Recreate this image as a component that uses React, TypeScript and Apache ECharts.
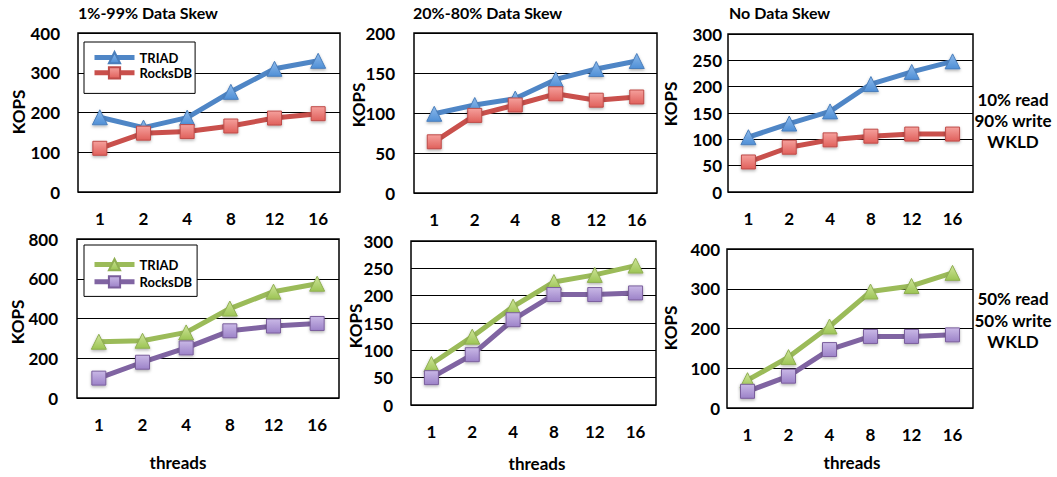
import React, { useEffect, useRef } from "react";
import * as echarts from "echarts";

const threads = ["1", "2", "4", "8", "12", "16"];

// Top row: 10% read / 90% write
const triadSkew1W = [188, 162, 187, 252, 310, 330];
const rocksSkew1W = [110, 148, 152, 166, 186, 197];
const triadSkew20W = [99, 110, 118, 142, 155, 165];
const rocksSkew20W = [64, 97, 110, 124, 116, 120];
const triadNoSkewW = [104, 130, 153, 205, 228, 248];
const rocksNoSkewW = [57, 85, 99, 106, 110, 110];

// Bottom row: 50% read / 50% write
const triadSkew1M = [283, 288, 330, 450, 535, 575];
const rocksSkew1M = [100, 180, 252, 338, 362, 375];
const triadSkew20M = [75, 125, 180, 225, 238, 255];
const rocksSkew20M = [50, 92, 156, 202, 202, 205];
const triadNoSkewM = [70, 128, 205, 293, 307, 340];
const rocksNoSkewM = [42, 80, 147, 180, 180, 184];

const yMaxTop = [400, 200, 300];
const yIntTop = [100, 50, 50];
const yMaxBot = [800, 300, 400];
const yIntBot = [200, 50, 100];

const titles = ["1%-99% Data Skew", "20%-80% Data Skew", "No Data Skew"];
const yName = "KOPS";
const xName = "threads";
const topNote = ["10% read", "90% write", "WKLD"];
const botNote = ["50% read", "50% write", "WKLD"];
const legendNames = ["TRIAD", "RocksDB"];

const FONT = 'Lato, "DejaVu Sans", sans-serif';

const grad = (a: string, b: string) =>
  new echarts.graphic.LinearGradient(0, 0, 0, 1, [
    { offset: 0, color: a },
    { offset: 1, color: b },
  ]);

const STYLES = {
  blue: { line: "#4F86C6", fillA: "#8DBAEB", fillB: "#4F8FD6", border: "#4A7EBB" },
  red: { line: "#C9504C", fillA: "#F5A09C", fillB: "#E0605B", border: "#BE4B48" },
  green: { line: "#9BBB59", fillA: "#CFE59A", fillB: "#9CC454", border: "#8FAE52" },
  purple: { line: "#8064A2", fillA: "#C9B8E6", fillB: "#9C82C8", border: "#7A5E9C" },
};

function mkSeries(
  name: string,
  data: number[],
  idx: number,
  st: { line: string; fillA: string; fillB: string; border: string },
  symbol: string,
  size: number
) {
  return {
    type: "line",
    name,
    data,
    xAxisIndex: idx,
    yAxisIndex: idx,
    symbol,
    symbolSize: size,
    showAllSymbol: true,
    lineStyle: { color: st.line, width: 5 },
    itemStyle: {
      color: grad(st.fillA, st.fillB),
      borderColor: st.border,
      borderWidth: 1,
      shadowColor: "rgba(0,0,0,0.3)",
      shadowBlur: 3,
      shadowOffsetY: 1.5,
    },
    emphasis: { disabled: true },
    z: name === "TRIAD" ? 3 : 4,
  };
}

function mkGrid(left: number, top: number, width: number, height: number) {
  return {
    left,
    top,
    width,
    height,
    show: true,
    borderColor: "#000",
    borderWidth: 1.5,
    backgroundColor: "transparent",
  };
}

function mkX(idx: number) {
  return {
    type: "category",
    gridIndex: idx,
    data: threads,
    boundaryGap: true,
    axisLine: { show: false },
    axisTick: { show: false },
    axisLabel: {
      margin: 18,
      fontFamily: FONT,
      fontWeight: "bold",
      fontSize: 17,
      color: "#000",
    },
    splitLine: { show: false },
  };
}

function mkY(idx: number, max: number, interval: number, margin: number) {
  return {
    type: "value",
    gridIndex: idx,
    min: 0,
    max,
    interval,
    axisLine: { show: false },
    axisTick: { show: false },
    axisLabel: {
      margin,
      fontFamily: FONT,
      fontWeight: "bold",
      fontSize: 17,
      color: "#000",
    },
    splitLine: { show: true, lineStyle: { color: "#000", width: 1 } },
  };
}

function txt(text: string, x: number, y: number, size: number, align = "center", rotate = 0) {
  return {
    type: "text",
    x,
    y,
    rotation: rotate,
    silent: true,
    style: {
      text,
      fill: "#000",
      font: `bold ${size}px ${FONT}`,
      align,
      verticalAlign: "middle",
    },
  };
}

function legendCfg(left: number, top: number, padding: number[], gap: number) {
  return {
    left,
    top,
    orient: "vertical",
    itemWidth: 40,
    itemHeight: 14,
    itemGap: gap,
    padding,
    borderColor: "#000",
    borderWidth: 1,
    backgroundColor: "#fff",
    selectedMode: false,
    lineStyle: { width: "inherit" },
    textStyle: { fontFamily: FONT, fontWeight: "bold", fontSize: 13, color: "#000" },
    data: legendNames.map((n) => ({ name: n, lineStyle: { width: 5 } })),
  };
}

function topOption() {
  return {
    animation: false,
    backgroundColor: "transparent",
    grid: [mkGrid(78, 33, 262, 159), mkGrid(414, 33, 243, 160), mkGrid(728, 34, 245, 158)],
    xAxis: [mkX(0), mkX(1), mkX(2)],
    yAxis: [
      mkY(0, yMaxTop[0], yIntTop[0], 18),
      mkY(1, yMaxTop[1], yIntTop[1], 19),
      mkY(2, yMaxTop[2], yIntTop[2], 6),
    ],
    legend: legendCfg(84, 42, [9, 3, 14, 8], 2),
    series: [
      mkSeries("TRIAD", triadSkew1W, 0, STYLES.blue, "triangle", 15),
      mkSeries("RocksDB", rocksSkew1W, 0, STYLES.red, "rect", 14),
      mkSeries("TRIAD", triadSkew20W, 1, STYLES.blue, "triangle", 15),
      mkSeries("RocksDB", rocksSkew20W, 1, STYLES.red, "rect", 14),
      mkSeries("TRIAD", triadNoSkewW, 2, STYLES.blue, "triangle", 15),
      mkSeries("RocksDB", rocksNoSkewW, 2, STYLES.red, "rect", 14),
    ],
    graphic: [
      txt(titles[0], 78, 12, 16, "left"),
      txt(titles[1], 413, 12, 16, "left"),
      txt(titles[2], 729, 12, 16, "left"),
      txt(yName, 18, 112, 17, "center", Math.PI / 2),
      txt(yName, 358, 105, 17, "center", Math.PI / 2),
      txt(yName, 670, 104, 17, "center", Math.PI / 2),
      txt(topNote[0], 1013, 99, 17),
      txt(topNote[1], 1013, 120, 17),
      txt(topNote[2], 1013, 141, 17),
    ],
  };
}

function botOption() {
  return {
    animation: false,
    backgroundColor: "transparent",
    grid: [mkGrid(77, 239, 262, 159), mkGrid(411, 241, 245, 164), mkGrid(727, 249, 246, 159)],
    xAxis: [mkX(0), mkX(1), mkX(2)],
    yAxis: [
      mkY(0, yMaxBot[0], yIntBot[0], 19),
      mkY(1, yMaxBot[1], yIntBot[1], 18),
      mkY(2, yMaxBot[2], yIntBot[2], 7),
    ],
    legend: legendCfg(84, 245, [13, 5, 8, 8], 4),
    series: [
      mkSeries("TRIAD", triadSkew1M, 0, STYLES.green, "triangle", 15),
      mkSeries("RocksDB", rocksSkew1M, 0, STYLES.purple, "rect", 14),
      mkSeries("TRIAD", triadSkew20M, 1, STYLES.green, "triangle", 15),
      mkSeries("RocksDB", rocksSkew20M, 1, STYLES.purple, "rect", 14),
      mkSeries("TRIAD", triadNoSkewM, 2, STYLES.green, "triangle", 15),
      mkSeries("RocksDB", rocksNoSkewM, 2, STYLES.purple, "rect", 14),
    ],
    graphic: [
      txt(yName, 17, 322, 17, "center", Math.PI / 2),
      txt(yName, 355, 326, 17, "center", Math.PI / 2),
      txt(yName, 670, 328, 17, "center", Math.PI / 2),
      txt(xName, 178, 462, 17),
      txt(xName, 537, 463, 17),
      txt(xName, 852, 462, 17),
      txt(botNote[0], 1013, 298, 17),
      txt(botNote[1], 1013, 320, 17),
      txt(botNote[2], 1013, 341, 17),
    ],
  };
}

export default function App() {
  const topRef = useRef<HTMLDivElement>(null);
  const botRef = useRef<HTMLDivElement>(null);
  useEffect(() => {
    const a = echarts.init(topRef.current!, undefined, { renderer: "svg" });
    const b = echarts.init(botRef.current!, undefined, { renderer: "svg" });
    a.setOption(topOption() as any);
    b.setOption(botOption() as any);
    return () => {
      a.dispose();
      b.dispose();
    };
  }, []);
  const box: React.CSSProperties = {
    position: "absolute",
    left: 0,
    top: 0,
    width: 1057,
    height: 477,
  };
  return (
    <div style={{ position: "fixed", left: 0, top: 0, width: 1057, height: 477, background: "#fff" }}>
      <div ref={topRef} style={box} />
      <div ref={botRef} style={box} />
    </div>
  );
}
